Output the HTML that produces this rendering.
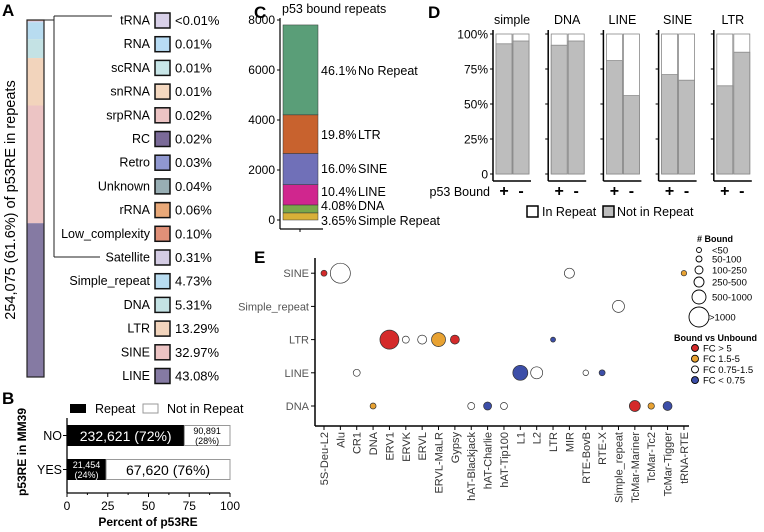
<!DOCTYPE html>
<html><head><meta charset="utf-8"><style>
body{margin:0;background:#fff}
svg{display:block;font-family:"Liberation Sans",Arial,sans-serif}
</style></head><body>
<svg id="fig" width="764" height="532" viewBox="0 0 764 532"></svg>
<script>
// ---- Panel A data
const aCats=["tRNA","RNA","scRNA","snRNA","srpRNA","RC","Retro","Unknown","rRNA","Low_complexity","Satellite","Simple_repeat","DNA","LTR","SINE","LINE"];
const aVals=[0.004,0.01,0.01,0.01,0.02,0.02,0.03,0.04,0.06,0.10,0.31,4.73,5.31,13.29,32.97,43.08];
const aLabels=["<0.01%","0.01%","0.01%","0.01%","0.02%","0.02%","0.03%","0.04%","0.06%","0.10%","0.31%","4.73%","5.31%","13.29%","32.97%","43.08%"];
const aColors=["#d8d0e8","#b8dcf4","#c8e6e8","#f4d8c0","#ecc4c4","#7a6a98","#9098d0","#98aeb4","#e8a878","#e09078","#d4cce4","#b8dcf0","#c4e2e4","#f2d4bc","#ecc4c4","#857aa3"];
// ---- Panel B data
const bCats=["NO","YES"];
const bRepeat=[72,24];
const bNot=[28,76];
const bRepLabels=["232,621 (72%)","21,454|(24%)"];
const bNotLabels=["90,891|(28%)","67,620 (76%)"];
const bTicks=[0,25,50,75,100];
// ---- Panel C data
const cCats=["Simple Repeat","DNA","LINE","SINE","LTR","No Repeat"];
const cPct=[3.65,4.08,10.4,16.0,19.8,46.1];
const cPctLabels=["3.65%","4.08%","10.4%","16.0%","19.8%","46.1%"];
const cTotal=7800;
const cTicks=[0,2000,4000,6000,8000];
const cColors=["#d8b038","#7aa84a","#d0268e","#7070b8","#c8622e","#5a9e78"];
// ---- Panel D data
const dFacets=["simple","DNA","LINE","SINE","LTR"];
const dBoundNot=[93,92,81,71,63];
const dUnboundNot=[95,95,56,67,87];
const dTicks=[0,25,50,75,100];
const dTickLabels=["0","25%","50%","75%","100%"];
// ---- Panel E data
const eRows=["DNA","LINE","LTR","Simple_repeat","SINE"];
const eCats=["5S-Deu-L2","Alu","CR1","DNA","ERV1","ERVK","ERVL","ERVL-MaLR","Gypsy","hAT-Blackjack","hAT-Charlie","hAT-Tip100","L1","L2","LTR","MIR","RTE-BovB","RTE-X","Simple_repeat","TcMar-Mariner","TcMar-Tc2","TcMar-Tigger","tRNA-RTE"];
const ePtCat=["5S-Deu-L2","Alu","MIR","tRNA-RTE","Simple_repeat","ERV1","ERVK","ERVL","ERVL-MaLR","Gypsy","LTR","CR1","L1","L2","RTE-BovB","RTE-X","DNA","hAT-Blackjack","hAT-Charlie","hAT-Tip100","TcMar-Mariner","TcMar-Tc2","TcMar-Tigger"];
const ePtRow=["SINE","SINE","SINE","SINE","Simple_repeat","LTR","LTR","LTR","LTR","LTR","LTR","LINE","LINE","LINE","LINE","LINE","DNA","DNA","DNA","DNA","DNA","DNA","DNA"];
const ePtCount=[133,1480,370,110,532,1335,181,300,725,300,92,181,832,532,116,133,133,181,237,181,447,151,300];
const ePtFC=[">5","0.75-1.5","0.75-1.5","1.5-5","0.75-1.5",">5","0.75-1.5","0.75-1.5","1.5-5",">5","<0.75","0.75-1.5","<0.75","0.75-1.5","0.75-1.5","<0.75","1.5-5","0.75-1.5","<0.75","0.75-1.5",">5","1.5-5","<0.75"];
const fcKeys=[">5","1.5-5","0.75-1.5","<0.75"];
const fcLabels=["FC > 5","FC 1.5-5","FC 0.75-1.5","FC < 0.75"];
const fcColors=["#d42a2a","#e8a232","#ffffff","#3c4ea8"];
const sizeLabels=["<50","50-100","100-250","250-500","500-1000",">1000"];
const sizeCounts=[92,133,237,370,725,1480];

const S=document.getElementById('fig');
const NS="http://www.w3.org/2000/svg";
function el(tag,attrs,parent){const e=document.createElementNS(NS,tag);for(const k in attrs)e.setAttribute(k,attrs[k]);(parent||S).appendChild(e);return e;}
function txt(x,y,s,attrs){const e=el('text',Object.assign({x:x,y:y},attrs||{}));e.textContent=s;return e;}
function panelLabel(x,y,s){const t=txt(x,y,s,{'font-size':17,'font-weight':'bold'});

}
panelLabel(2,16,"A");panelLabel(2,404,"B");panelLabel(254,18,"C");panelLabel(428,18,"D");panelLabel(254,263,"E");

// ===== Panel A
(function(){
  const g=el('g',{});
  
  
  const top=20,bot=377,x0=27,w=17;
  const tot=aVals.reduce((a,b)=>a+b,0);
  let y=top;
  for(let i=0;i<aVals.length;i++){
    const h=aVals[i]/tot*(bot-top);
    const r=el('rect',{x:x0,y:y,width:w,height:h,fill:aColors[i]},g);
    
    
    y+=h;
  }
  el('rect',{x:x0,y:top,width:w,height:bot-top,fill:'none',stroke:'#222','stroke-width':1.2},g);
  el('path',{d:'M44 20 H54 M54 16 V257 M54 16 H112 M54 257 H100',stroke:'#222',fill:'none','stroke-width':1},g);
  const yl=txt(0,0,"254,075 (61.6%) of p53RE in repeats",{'font-size':14.5,'text-anchor':'middle',transform:'translate(15,200) rotate(-90)'});
  
  
  for(let i=0;i<aCats.length;i++){
    const yy=20+i*23.7;
    const lg=el('g',{},g);
    
    
    lg.appendChild(txt(150,yy+4.5,aCats[i],{'font-size':12.5,'text-anchor':'end'}));
    el('rect',{x:155,y:yy-7,width:15,height:15,fill:aColors[i],stroke:'#111','stroke-width':1.5},lg);
    lg.appendChild(txt(175,yy+5,aLabels[i],{'font-size':13}));
  }
})();

// ===== Panel B
(function(){
  const g=el('g',{});
  
  
  const x=v=>67+v*1.63;
  const rowsY=[425,459],bh=21;
  el('line',{x1:67,y1:418,x2:67,y2:493,stroke:'#000','stroke-width':1.3},g);
  el('line',{x1:67,y1:493,x2:230,y2:493,stroke:'#000','stroke-width':1.3},g);
  bTicks.forEach(t=>{el('line',{x1:x(t),y1:493,x2:x(t),y2:497,stroke:'#000'},g);
    const tl=txt(x(t),510,String(t),{'font-size':12,'text-anchor':'middle'});});
  [12.5,37.5,62.5,87.5].forEach(t=>el('line',{x1:x(t),y1:493,x2:x(t),y2:495,stroke:'#000'},g));
  for(let i=0;i<bCats.length;i++){
    const y=rowsY[i];
    const r1=el('rect',{x:x(0),y:y,width:x(bRepeat[i])-x(0),height:bh,fill:'#000'},g);
    
    
    const r2=el('rect',{x:x(bRepeat[i]),y:y+0.5,width:x(bRepeat[i]+bNot[i])-x(bRepeat[i]),height:bh-1,fill:'#fff',stroke:'#999'},g);
    
    
    el('line',{x1:63,y1:y+bh/2,x2:67,y2:y+bh/2,stroke:'#000'},g);
    txt(62,y+bh/2+4.5,bCats[i],{'font-size':12.5,'text-anchor':'end'});
    const cx1=(x(0)+x(bRepeat[i]))/2, cx2=(x(bRepeat[i])+x(bRepeat[i]+bNot[i]))/2;
    [[bRepLabels[i],cx1,'#fff'],[bNotLabels[i],cx2,'#000']].forEach(([s,cx,c])=>{
      const p=s.split('|');
      if(p.length===1) txt(cx,y+bh/2+5.5,s,{'font-size':14,'text-anchor':'middle',fill:c});
      else{txt(cx,y+9,p[0],{'font-size':9,'text-anchor':'middle',fill:c});txt(cx,y+19,p[1],{'font-size':9,'text-anchor':'middle',fill:c});}
    });
  }
  el('rect',{x:70,y:404,width:16,height:9,fill:'#000'},g);
  txt(95,413,"Repeat",{'font-size':12.5});
  el('rect',{x:143,y:404,width:15,height:9,fill:'#fff',stroke:'#999'},g);
  txt(167,413,"Not in Repeat",{'font-size':12.5});
  txt(148,526,"Percent of p53RE",{'font-size':12,'font-weight':'bold','text-anchor':'middle'});
  const yt=txt(0,0,"p53RE in MM39",{'font-size':12,'font-weight':'bold','text-anchor':'middle',transform:'translate(26,452) rotate(-90)'});
  
})();

// ===== Panel C
(function(){
  const g=el('g',{});
  
  
  const y=v=>220-v*0.025;
  txt(282,13,"p53 bound repeats",{'font-size':12.5});
  el('line',{x1:280,y1:18,x2:280,y2:229,stroke:'#000','stroke-width':1.2},g);
  el('line',{x1:280,y1:229,x2:323,y2:229,stroke:'#000','stroke-width':1.2},g);
  el('line',{x1:300,y1:229,x2:300,y2:232,stroke:'#000'},g);
  cTicks.forEach(t=>{el('line',{x1:277,y1:y(t),x2:280,y2:y(t),stroke:'#000'},g);
    txt(275,y(t)+4,String(t),{'font-size':12,'text-anchor':'end'});});
  let cum=0;
  const labY=[220,205,191,168,134,70];
  for(let i=0;i<cPct.length;i++){
    const v0=cum, v1=cum+cPct[i]/100*cTotal; cum=v1;
    const r=el('rect',{x:283,y:y(v1),width:35,height:y(v0)-y(v1),fill:cColors[i],stroke:'#333','stroke-width':0.5},g);
    
    
    txt(321,labY[i]+5,cPctLabels[i],{'font-size':12.5});
    txt(358,labY[i]+5,cCats[i],{'font-size':12.5});
  }
})();

// ===== Panel D
(function(){
  const g=el('g',{});
  
  
  const y=v=>174-v*1.4;
  dTicks.forEach((t,i)=>txt(488,y(t)+4.5,dTickLabels[i],{'font-size':12,'text-anchor':'end'}));
  for(let f=0;f<dFacets.length;f++){
    const ax=493+f*55.2;
    const fg=el('g',{},g);
    
    
    el('line',{x1:ax,y1:30,x2:ax,y2:181,stroke:'#000','stroke-width':1.5},fg);
    el('line',{x1:ax,y1:181,x2:ax+38,y2:181,stroke:'#000','stroke-width':1.5},fg);
    dTicks.forEach(t=>el('line',{x1:ax-3,y1:y(t),x2:ax,y2:y(t),stroke:'#000'},fg));
    txt(ax+19,24,dFacets[f],{'font-size':12.5,'text-anchor':'middle'});
    [dBoundNot[f],dUnboundNot[f]].forEach((v,j)=>{
      const bx=ax+3+j*17;
      el('rect',{x:bx,y:y(100),width:16,height:y(0)-y(100),fill:'#fff',stroke:'#888','stroke-width':0.8},fg);
      const r=el('rect',{x:bx,y:y(v),width:16,height:y(0)-y(v),fill:'#bdbdbd',stroke:'#888','stroke-width':0.8},fg);
      
      
      txt(bx+8,196,j?'-':'+',{'font-size':16,'font-weight':'bold','text-anchor':'middle'});
    });
  }
  txt(490,196,"p53 Bound",{'font-size':12.5,'text-anchor':'end'});
  const lg=el('g',{},g);
  
  
  el('rect',{x:527,y:206,width:11,height:11,fill:'#fff',stroke:'#000','stroke-width':1.5},lg);
  lg.appendChild(txt(542,216,"In Repeat",{'font-size':12.5}));
  el('rect',{x:603,y:206,width:11,height:11,fill:'#bdbdbd',stroke:'#000','stroke-width':1.5},lg);
  lg.appendChild(txt(617,216,"Not in Repeat",{'font-size':12.5}));
})();

// ===== Panel E
(function(){
  const g=el('g',{});
  
  
  const x=c=>324+eCats.indexOf(c)*16.36;
  const y=r=>406-eRows.indexOf(r)*33.2;
  const rad=n=>0.26*Math.sqrt(n);
  el('line',{x1:315,y1:258,x2:315,y2:426,stroke:'#000','stroke-width':1.5},g);
  el('line',{x1:315,y1:426,x2:689,y2:426,stroke:'#000','stroke-width':1.5},g);
  eRows.forEach(r=>{el('line',{x1:311,y1:y(r),x2:315,y2:y(r),stroke:'#000'},g);
    txt(309,y(r)+4,r,{'font-size':11,'text-anchor':'end',fill:'#555'});});
  eCats.forEach(c=>{el('line',{x1:x(c),y1:426,x2:x(c),y2:430,stroke:'#000'},g);
    const t=txt(0,0,c,{'font-size':11,'text-anchor':'end',fill:'#333',transform:'translate('+(x(c)+4)+',432) rotate(-90)'});
    });
  for(let i=0;i<ePtCat.length;i++){
    const c=el('circle',{cx:x(ePtCat[i]),cy:y(ePtRow[i]),r:rad(ePtCount[i]),fill:fcColors[fcKeys.indexOf(ePtFC[i])],stroke:'#333','stroke-width':0.7},g);
    
    
  }
  const lg=el('g',{},g);
  
  
  lg.appendChild(txt(697,242,"# Bound",{'font-size':9,'font-weight':'bold'}));
  const sy=[250,259,270,282,297,317];
  sizeLabels.forEach((s,i)=>{el('circle',{cx:699,cy:sy[i],r:rad(sizeCounts[i]),fill:'#fff',stroke:'#000','stroke-width':0.9},lg);
    lg.appendChild(txt(712-(i===5?3:0),sy[i]+3.5,s,{'font-size':9.5}));});
  lg.appendChild(txt(674,341,"Bound vs Unbound",{'font-size':9,'font-weight':'bold'}));
  fcLabels.forEach((s,i)=>{el('circle',{cx:695,cy:348+i*10.7,r:3.5,fill:fcColors[i],stroke:'#000','stroke-width':0.9},lg);
    lg.appendChild(txt(703,351.5+i*10.7,s,{'font-size':9.5}));});
})();
</script>
</body></html>
